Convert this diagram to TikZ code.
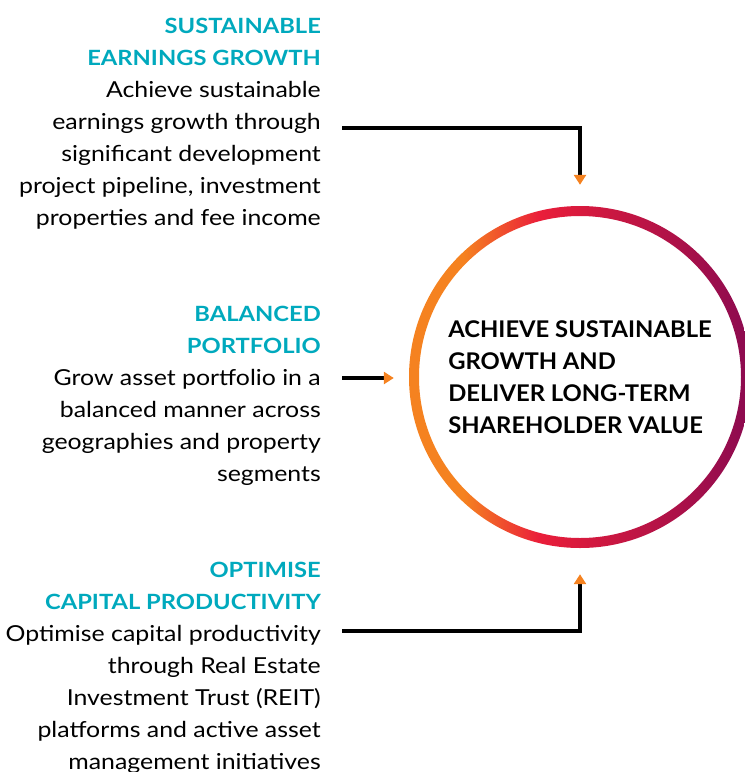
\documentclass[tikz,border=0pt]{standalone}
\usepackage{fontspec}
\setmainfont[FakeStretch=1.13]{Lato}
\newfontfamily\goalfont[FakeStretch=1.035]{Lato}
\usepackage{xcolor}
\usetikzlibrary{arrows.meta, positioning, calc}
\definecolor{brandteal}{RGB}{0, 169, 189}
\definecolor{ringorange}{RGB}{245, 130, 32}
\definecolor{ringred}{RGB}{234, 30, 58}
\definecolor{ringplum}{RGB}{139, 10, 80}
\pgfdeclarehorizontalshading{ringshade}{100bp}{color(0bp)=(ringorange); color(25bp)=(ringorange); color(33bp)=(ringorange); color(44bp)=(ringred); color(75bp)=(ringplum); color(100bp)=(ringplum)}
\newcommand{\blocktitle}[1]{\textcolor{brandteal}{\bfseries\fontsize{21}{32}\selectfont #1}}
\tikzstyle{pillar} = [anchor=north east, align=right, inner sep=0pt, font=\fontsize{22}{32}\selectfont]
\tikzstyle{goalbox} = [circle, minimum size=342pt, inner sep=0pt, align=left, font=\goalfont\bfseries\fontsize{23}{32}\selectfont]
\tikzstyle{link} = [line width=4pt, -{Triangle[color=ringorange, length=10pt, width=12pt]}]

\begin{document}
\begin{tikzpicture}[x=1pt, y=-1pt]
    \useasboundingbox (0,0) rectangle (745,772);

    \node[goalbox] (goal) at (580, 377) {
        ACHIEVE SUSTAINABLE\\GROWTH AND\\DELIVER LONG-TERM\\SHAREHOLDER VALUE
    };
    \shade[even odd rule, shading=ringshade]
        (goal.center) circle (171) (goal.center) circle (161);

    \node[pillar] (p1) at (321, 18) {
        \blocktitle{SUSTAINABLE}\\\blocktitle{EARNINGS GROWTH}\\
        Achieve sustainable\\earnings growth through\\significant development\\
        project pipeline, investment\\properties and fee income
    };

    \node[pillar] (p2) at (321, 306) {
        \blocktitle{BALANCED}\\\blocktitle{PORTFOLIO}\\
        Grow asset portfolio in a\\balanced manner across\\geographies and property\\segments
    };

    \node[pillar] (p3) at (321, 562) {
        \blocktitle{OPTIMISE}\\\blocktitle{CAPITAL PRODUCTIVITY}\\
        Optimise capital productivity\\through Real Estate\\Investment Trust (REIT)\\
        platforms and active asset\\management initiatives
    };

    % Arrows
    \coordinate (in1) at (342, 128);
    \coordinate (in2) at (342, 378);
    \coordinate (in3) at (342, 631);
    \draw[link, shorten >=21pt] (in1) -| (goal.north);
    \draw[link, shorten >=15pt] (in2) -- (in2 -| goal.west);
    \draw[link, shorten >=26pt] (in3) -| (goal.south);
\end{tikzpicture}
\end{document}
